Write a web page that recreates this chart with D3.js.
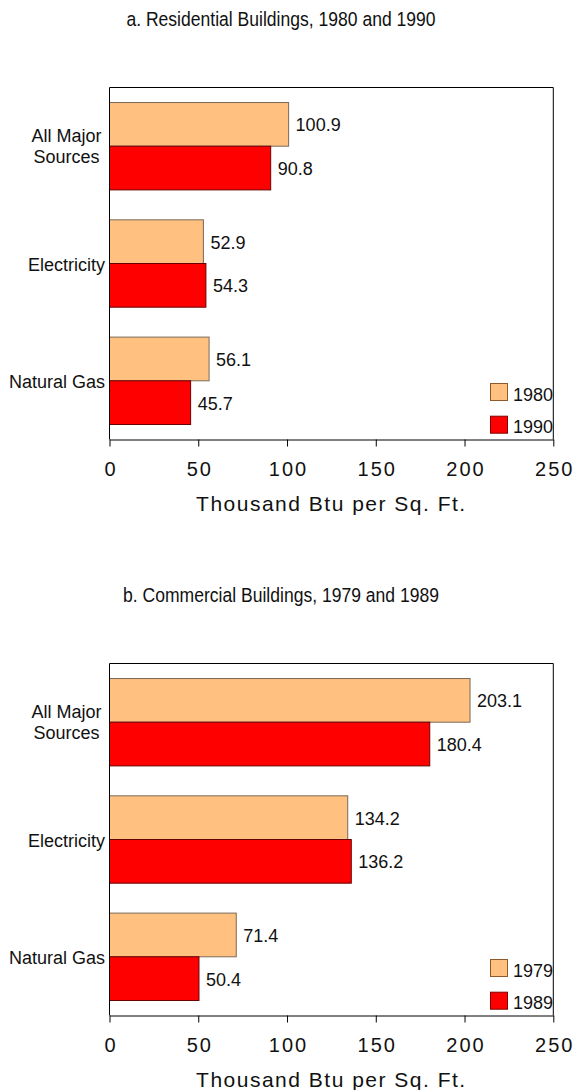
<!DOCTYPE html>
<html lang="en">
  <head>
    <meta charset="utf-8">
    <script src="https://d3js.org/d3.v7.min.js"></script>
    <style>
      body {margin: 0; background: white;}
      svg text {font-family: "Liberation Sans", Arial, sans-serif; fill: #111;}
      .tick text {font-size: 20px; letter-spacing: 2px;}
    </style>
  </head>
  <body>
    <script type="text/javascript">
      // chart data
      const categories = ["All Major Sources", "Electricity", "Natural Gas"];
      const ticks = [0, 50, 100, 150, 200, 250];
      const titleA = "a. Residential Buildings, 1980 and 1990";
      const seriesA = ["1980", "1990"];
      const values1980 = [100.9, 52.9, 56.1];
      const values1990 = [90.8, 54.3, 45.7];
      const titleB = "b. Commercial Buildings, 1979 and 1989";
      const seriesB = ["1979", "1989"];
      const values1979 = [203.1, 134.2, 71.4];
      const values1989 = [180.4, 136.2, 50.4];

      // sizes
      const w = 574;
      const h = 1090;
      const plotLeft = 109.5;
      const plotRight = 553.3;
      const plotTop = 87.5;
      const plotH = 352;
      const panelStep = 576;

      const fills = ["#ffc080", "#ff0000"];
      const strokes = ["#7a6a5a", "#6a0000"];
      const legendStrokes = ["#8b5a2b", "#800000"];

      var svg = d3.select("body")
            .append("svg")
            .attr("width", w)
            .attr("height", h);

      var xScale = d3.scaleLinear()
            .domain([0, 250])
            .range([plotLeft, plotRight]);

      function drawPanel(offset, title, series, valueSets) {
        var g = svg.append("g").attr("transform", "translate(0," + offset + ")");
        var plotBottom = plotTop + plotH;

        // title, slightly condensed like the original
        g.append("text")
          .attr("transform", "translate(281,25.7) scale(0.9,1)")
          .attr("text-anchor", "middle")
          .attr("font-size", 19.5)
          .text(title);

        var yScale = d3.scaleBand()
              .domain(categories)
              .range([plotTop, plotBottom])
              .paddingInner(0.255)
              .paddingOuter(0.128);
        var ySub = d3.scaleBand()
              .domain(series)
              .range([0, yScale.bandwidth()]);

        // bars
        series.forEach(function(s, si) {
          var vals = valueSets[si];
          g.selectAll(".bar" + si)
            .data(categories)
            .enter()
            .append("rect")
            .attr("x", xScale(0))
            .attr("y", function(d) { return yScale(d) + ySub(s); })
            .attr("width", function(d, i) { return xScale(vals[i]) - xScale(0); })
            .attr("height", ySub.bandwidth())
            .attr("fill", fills[si])
            .attr("stroke", strokes[si])
            .attr("stroke-width", 1);

          g.selectAll(".val" + si)
            .data(categories)
            .enter()
            .append("text")
            .attr("x", function(d, i) { return xScale(vals[i]) + 7; })
            .attr("y", function(d) { return yScale(d) + ySub(s) + ySub.bandwidth() / 2 + 7; })
            .attr("font-size", 18)
            .text(function(d, i) { return vals[i].toFixed(1); });
        });

        // category labels
        categories.forEach(function(c) {
          var cy = yScale(c) + yScale.bandwidth() / 2;
          var lines = c == "All Major Sources" ? ["All Major", "Sources"] : [c];
          if (lines.length == 1) {
            g.append("text")
              .attr("x", 105)
              .attr("y", cy + 7)
              .attr("text-anchor", "end")
              .attr("font-size", 18)
              .text(c);
          } else {
            lines.forEach(function(l, li) {
              g.append("text")
                .attr("x", 66.5)
                .attr("y", cy - 4.3 + li * 21)
                .attr("text-anchor", "middle")
                .attr("font-size", 18)
                .text(l);
            });
          }
        });

        // frame
        g.append("line").attr("x1", plotLeft).attr("x2", plotRight).attr("y1", plotTop).attr("y2", plotTop)
          .attr("stroke", "black");
        g.append("line").attr("x1", plotRight).attr("x2", plotRight).attr("y1", plotTop).attr("y2", plotBottom)
          .attr("stroke", "black");
        g.append("line").attr("x1", plotLeft).attr("x2", plotLeft).attr("y1", plotTop).attr("y2", plotBottom)
          .attr("stroke", "black");

        // x axis
        var xAxis = d3.axisBottom(xScale)
              .tickValues(ticks)
              .tickSize(7)
              .tickSizeOuter(0)
              .tickPadding(15.5);
        var ax = g.append("g")
              .attr("transform", "translate(0," + plotBottom + ")")
              .call(xAxis);
        ax.select(".domain").attr("stroke", "black");
        ax.selectAll(".tick line").attr("stroke", "black");
        ax.selectAll(".tick text").attr("fill", "#111").attr("font-family", null).attr("font-size", null)
          .attr("dx", 1);

        g.append("text")
          .attr("x", (plotLeft + plotRight) / 2)
          .attr("y", plotBottom + 71)
          .attr("text-anchor", "middle")
          .attr("font-size", 21)
          .attr("letter-spacing", 1.5)
          .text("Thousand Btu per Sq. Ft.");

        // legend
        series.forEach(function(s, si) {
          var ly = 383.5 + si * 32.7;
          g.append("rect")
            .attr("x", 490.5)
            .attr("y", ly)
            .attr("width", 17)
            .attr("height", 17)
            .attr("fill", fills[si])
            .attr("stroke", legendStrokes[si]);
          g.append("text")
            .attr("x", 513)
            .attr("y", ly + 17)
            .attr("font-size", 18)
            .text(s);
        });
      }

      drawPanel(0, titleA, seriesA, [values1980, values1990]);
      drawPanel(panelStep, titleB, seriesB, [values1979, values1989]);
    </script>
  </body>
</html>
